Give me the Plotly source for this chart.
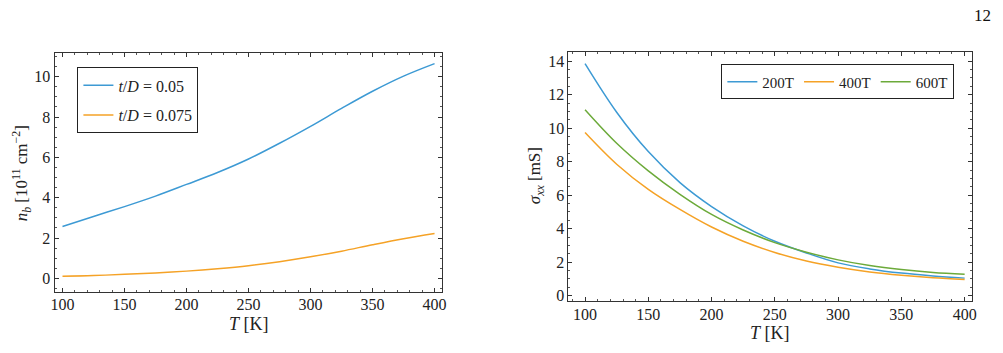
import plotly.graph_objects as go

T = [100, 125, 150, 175, 200, 225, 250, 275, 300, 325, 350, 375, 400]

nb_005 = [2.57, 3.07, 3.56, 4.08, 4.66, 5.25, 5.92, 6.70, 7.54, 8.43, 9.28, 10.03, 10.65]
nb_0075 = [0.10, 0.14, 0.20, 0.27, 0.36, 0.48, 0.63, 0.83, 1.07, 1.35, 1.67, 1.97, 2.23]

sig_200 = [13.85, 10.95, 8.60, 6.75, 5.32, 4.17, 3.25, 2.55, 1.96, 1.60, 1.35, 1.18, 1.05]
sig_400 = [9.74, 7.85, 6.35, 5.15, 4.10, 3.25, 2.58, 2.07, 1.70, 1.42, 1.22, 1.07, 0.97]
sig_600 = [11.10, 9.10, 7.45, 6.05, 4.85, 3.92, 3.17, 2.60, 2.14, 1.80, 1.56, 1.39, 1.28]

left_labels = ["<i>t</i>/<i>D</i> = 0.05", "<i>t</i>/<i>D</i> = 0.075"]
right_labels = ["200T", "400T", "600T"]

BLUE = "#3D9AD4"
ORANGE = "#F5A226"
GREEN = "#6CAA3A"
FONT = "Liberation Serif"

fig = go.Figure()
fig.add_trace(go.Scatter(x=T, y=nb_005, mode="lines", line=dict(color=BLUE, width=1.5, shape="spline"),
                         name=left_labels[0], xaxis="x", yaxis="y", legend="legend", legendgroup="a"))
fig.add_trace(go.Scatter(x=T, y=nb_0075, mode="lines", line=dict(color=ORANGE, width=1.5, shape="spline"),
                         name=left_labels[1], xaxis="x", yaxis="y", legend="legend", legendgroup="b"))
fig.add_trace(go.Scatter(x=T, y=sig_200, mode="lines", line=dict(color=BLUE, width=1.5, shape="spline"),
                         name=right_labels[0], xaxis="x2", yaxis="y2", legend="legend2"))
fig.add_trace(go.Scatter(x=T, y=sig_400, mode="lines", line=dict(color=ORANGE, width=1.5, shape="spline"),
                         name=right_labels[1], xaxis="x2", yaxis="y2", legend="legend2"))
fig.add_trace(go.Scatter(x=T, y=sig_600, mode="lines", line=dict(color=GREEN, width=1.5, shape="spline"),
                         name=right_labels[2], xaxis="x2", yaxis="y2", legend="legend2"))

axis_common = dict(showgrid=False, zeroline=False, showline=True, linecolor="#333333", linewidth=1,
                   mirror="allticks", ticks="inside", ticklen=4, tickcolor="#333333", tickwidth=1,
                   tickfont=dict(family=FONT, size=16, color="#222222"))
minor_x = dict(dtick=10, tick0=100, ticks="inside", ticklen=2, tickcolor="#555555")
minor_y = dict(dtick=0.5, tick0=0, ticks="inside", ticklen=2, tickcolor="#555555")
xticks = [100, 150, 200, 250, 300, 350, 400]

fig.update_layout(
    width=1003, height=353, margin=dict(l=0, r=0, t=0, b=0),
    paper_bgcolor="white", plot_bgcolor="white",
    font=dict(family=FONT, color="#222222", size=16),
    xaxis=dict(domain=[0.0508, 0.4407], range=[93.6, 406.4], anchor="y", tickvals=xticks,
               minor=minor_x, ticklabelstandoff=-3, **axis_common),
    yaxis=dict(domain=[0.1643, 0.8499], range=[-0.7, 11.2], anchor="x", tickvals=[0, 2, 4, 6, 8, 10],
               minor=minor_y, **axis_common),
    xaxis2=dict(domain=[0.5673, 0.9731], range=[86.9, 406], anchor="y2", tickvals=xticks,
                minor=minor_x, ticklabelstandoff=-2, **axis_common),
    yaxis2=dict(domain=[0.1388, 0.8507], range=[-0.34, 14.53], anchor="x2", tickvals=[0, 2, 4, 6, 8, 10, 12, 14],
                minor=minor_y, **axis_common),
    legend=dict(x=74/1003, y=1-68/353, xanchor="left", yanchor="top", bordercolor="#222222", borderwidth=1,
                bgcolor="white", font=dict(family=FONT, size=16, color="#222222"), orientation="v",
                itemwidth=30, tracegroupgap=6),
    legend2=dict(x=958/1003, y=1-65/353, xanchor="right", yanchor="top", bordercolor="#222222", borderwidth=1,
                 bgcolor="white", font=dict(family=FONT, size=15, color="#222222"), orientation="h",
                 itemwidth=30),
    annotations=[
        dict(text="<i>n</i><sub><i>b</i></sub> [10<sup>11</sup> cm<sup>−2</sup>]", x=18/1003, y=1-175/353,
             xref="paper", yref="paper", xanchor="center", yanchor="middle", textangle=-90, showarrow=False,
             font=dict(family=FONT, size=17)),
        dict(text="<i>T</i> [K]", x=247/1003, y=1-327/353, xref="paper", yref="paper", xanchor="center",
             yanchor="middle", showarrow=False, font=dict(family=FONT, size=18)),
        dict(text="<i>σ</i><sub><i>xx</i></sub> [mS]", x=537/1003, y=1-177/353,
             xref="paper", yref="paper", xanchor="center", yanchor="middle", textangle=-90, showarrow=False,
             font=dict(family=FONT, size=17)),
        dict(text="<i>T</i> [K]", x=772/1003, y=1-336/353, xref="paper", yref="paper", xanchor="center",
             yanchor="middle", showarrow=False, font=dict(family=FONT, size=18)),
        dict(text="12", x=986/1003, y=1-16/353, xref="paper", yref="paper", xanchor="center",
             yanchor="middle", showarrow=False, font=dict(family=FONT, size=17, color="#111111")),
    ],
)

fig.write_html("out.html")
